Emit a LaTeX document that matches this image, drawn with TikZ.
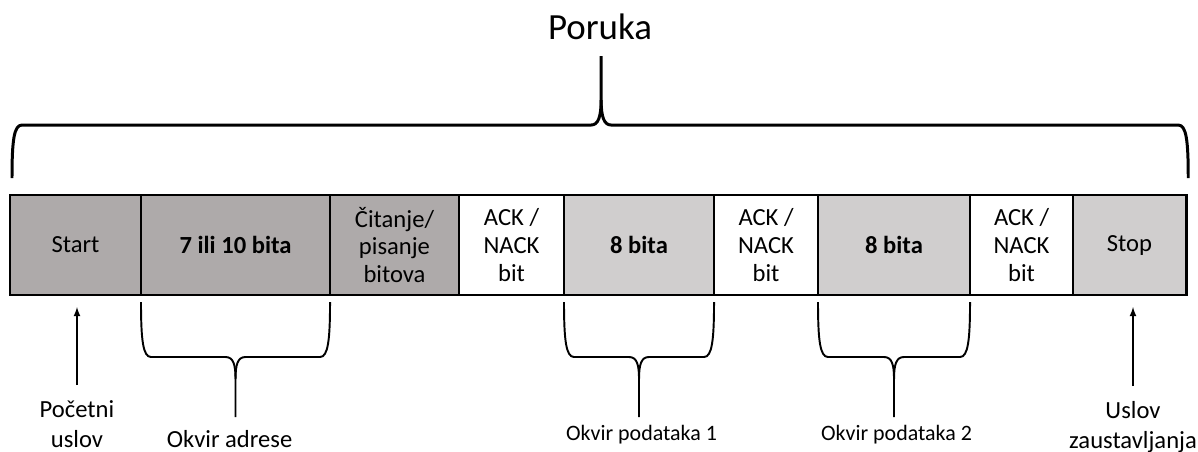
\documentclass[tikz,border=0pt]{standalone}
\usepackage{fontspec}
\setmainfont{Carlito}
\usetikzlibrary{positioning,calc}
\definecolor{darkgrey}{RGB}{174,170,170}
\definecolor{lightgrey}{RGB}{208,206,206}
\tikzstyle{field} = [draw=black, line width=0.6pt, rectangle, minimum height=2cm,
    inner sep=0pt, outer sep=0pt, align=center, font=\fontsize{14}{15.8}\selectfont]
\tikzstyle{hdr} = [field, fill=darkgrey]
\tikzstyle{dat} = [field, fill=lightgrey]
\tikzstyle{ack} = [field, fill=white]
\tikzstyle{note} = [align=center, inner sep=0pt, font=\fontsize{14}{17}\selectfont]
\tikzstyle{curly} = [line width=1.1pt, line join=round]

\begin{document}
\begin{tikzpicture}
\useasboundingbox (0,0) rectangle (23.96,-9.04);

% the message fields
\node [hdr, minimum width=2.62cm, anchor=west] (start) at (0.2,-4.9) {Start};
\node [hdr, minimum width=3.78cm, right=0pt of start] (addr) {\textbf{7 ili 10 bita}};
\node [hdr, minimum width=2.58cm, right=0pt of addr] (rw) {Čitanje/\\pisanje\\bitova};
\node [ack, minimum width=2.10cm, right=0pt of rw] (ack1) {ACK /\\NACK\\bit};
\node [dat, minimum width=3.00cm, right=0pt of ack1] (data1) {\textbf{8 bita}};
\node [ack, minimum width=2.08cm, right=0pt of data1] (ack2) {ACK /\\NACK\\bit};
\node [dat, minimum width=3.04cm, right=0pt of ack2] (data2) {\textbf{8 bita}};
\node [ack, minimum width=2.06cm, right=0pt of data2] (ack3) {ACK /\\NACK\\bit};
\node [dat, minimum width=2.26cm, right=0pt of ack3] (stop) {Stop};

\draw [line width=1.7pt] (start.north west) rectangle (stop.south east);

% brace over the whole message
\node [note, anchor=base, font=\fontsize{21}{24}\selectfont] (poruka) at (12.0,-0.8) {Poruka};
\begin{scope}[x=0.02cm, y=-0.02cm]
\draw [curly, line width=1.7pt] (12,178) .. controls (12,140) and (14,125) .. (22,125)
    -- (591,125) .. controls (598,125) and (601,117) .. (601,100) -- (601,56);
\draw [curly, line width=1.7pt] (601,100) .. controls (601,117) and (604,125) .. (611,125)
    -- (1178,125) .. controls (1186,125) and (1188,140) .. (1188,178);
\end{scope}

% braces under the frames
\foreach \n/\w in {addr/189, data1/150, data2/152}{
  \begin{scope}[shift={(\n.south west)}, x=0.02cm, y=-0.02cm]
  \draw [curly] (0,7) .. controls (0,45) and (2,62) .. (10,62) -- ({\w/2-10},62)
      .. controls ({\w/2-2},62) and ({\w/2},70) .. ({\w/2},84) -- ({\w/2},122);
  \draw [curly] ({\w/2},84) .. controls ({\w/2},70) and ({\w/2+2},62) .. ({\w/2+10},62)
      -- ({\w-10},62) .. controls ({\w-2},62) and (\w,45) .. (\w,7);
  \end{scope}
}

\node [note, anchor=base] (adrlbl) at ($(addr.south)+(-0.12,-3.04)$) {Okvir adrese};
\node [note, anchor=base, font=\fontsize{12.5}{15}\selectfont] (d1lbl) at ($(data1.south)+(0.05,-2.9)$) {Okvir podataka 1};
\node [note, anchor=base, font=\fontsize{12.5}{15}\selectfont] (d2lbl) at ($(data2.south)+(0.05,-2.9)$) {Okvir podataka 2};

% start and stop conditions
\node [note] (pocetni) at (1.54,-8.48) {Početni\\uslov};
\node [note] (uslov) at (22.66,-8.54) {Uslov\\zaustavljanja};

\draw [->, >=latex, line width=0.8pt, shorten <=0.3cm, shorten >=0.24cm]
    (pocetni.north) -- (pocetni.north |- start.south);
\draw [->, >=latex, line width=0.8pt, shorten <=0.3cm, shorten >=0.24cm]
    (uslov.north) -- (uslov.north |- stop.south);

\end{tikzpicture}
\end{document}
